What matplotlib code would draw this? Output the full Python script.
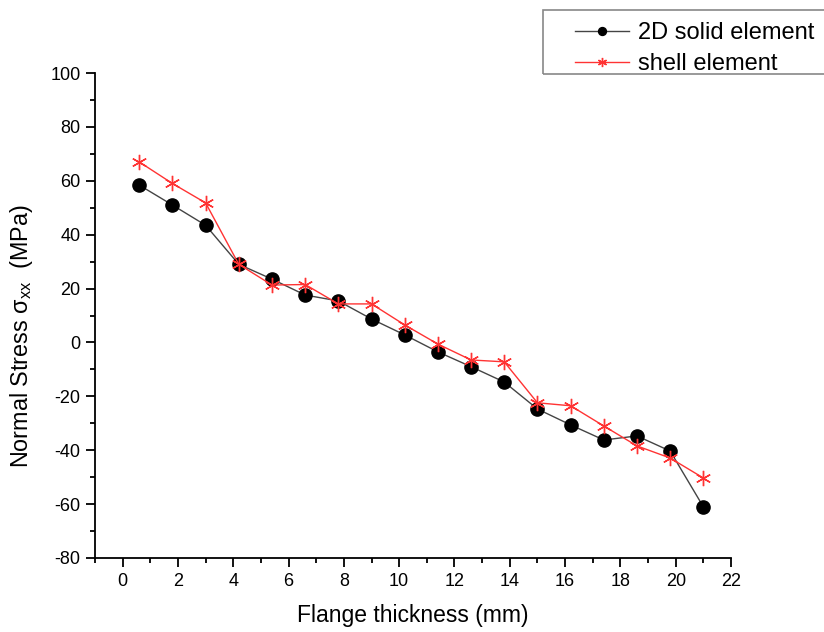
import numpy as np
import matplotlib.pyplot as plt
from matplotlib.ticker import MultipleLocator
from matplotlib.patches import Rectangle

plt.rcParams['font.family'] = ['Liberation Sans', 'DejaVu Sans']
plt.rcParams['mathtext.fontset'] = 'custom'
plt.rcParams['mathtext.rm'] = 'Liberation Sans'
plt.rcParams['mathtext.it'] = 'Liberation Sans'
plt.rcParams['axes.unicode_minus'] = False

# Data
thickness = [0.6, 1.8, 3.0, 4.2, 5.4, 6.6, 7.8, 9.0, 10.2, 11.4, 12.6, 13.8,
             15.0, 16.2, 17.4, 18.6, 19.8, 21.0]
solid_2d = [58.4, 51.0, 43.5, 29.0, 23.5, 17.6, 15.4, 8.7, 2.8, -3.5, -9.0, -14.7,
            -24.7, -30.6, -36.2, -34.7, -40.3, -61.0]
shell = [67.0, 59.0, 51.8, 29.0, 21.3, 21.5, 14.3, 14.3, 6.5, -0.6, -6.5, -7.2,
         -22.4, -23.5, -31.0, -38.4, -42.9, -50.3]

fig = plt.figure(figsize=(8.24, 6.32), dpi=100)
ax = fig.add_axes([95 / 824, 74 / 632, (731 - 95) / 824, (558 - 73) / 632])

ax.plot(thickness, solid_2d, color='#444444', lw=1.0, marker='o', ms=9.5,
        mfc='black', mec='black', label='2D solid element')
ax.plot(thickness, shell, color='#ff3333', lw=1.0, marker=(6, 2, 0), ms=11,
        mec='#ff3333', mew=1.0, label='shell element')

ax.set_xlim(-1, 22)
ax.set_ylim(-80, 100)
ax.xaxis.set_major_locator(MultipleLocator(2))
ax.xaxis.set_minor_locator(MultipleLocator(1))
ax.yaxis.set_major_locator(MultipleLocator(20))
ax.yaxis.set_minor_locator(MultipleLocator(10))
ax.tick_params(which='major', direction='out', length=6.5, width=1.3,
               labelsize=13, pad=4)
ax.tick_params(which='minor', direction='out', length=3.5, width=1.3)

for s in ['top', 'right']:
    ax.spines[s].set_visible(False)
for s in ['left', 'bottom']:
    ax.spines[s].set_linewidth(1.3)

ax.set_xlabel('Flange thickness (mm)', fontsize=16.5)
ax.set_ylabel('Normal Stress σ$_{\\rm xx}$  (MPa)', fontsize=16.8)
ax.xaxis.set_label_coords(0.5, -0.095)
ax.yaxis.set_label_coords(-0.095, 0.458)

# legend box reaching past the right edge, as in the reference
fig.patches.append(Rectangle((543 / 824, 1 - 74 / 632), 0.5, 64 / 632,
                             transform=fig.transFigure, fill=False,
                             edgecolor='#888888', lw=1.2))
fig.legend(loc='upper left', bbox_to_anchor=(575 / 824, 1 - 22 / 632),
           fontsize=17, frameon=False, handlelength=2.3, borderpad=0,
           labelspacing=0.38, handletextpad=0.35, borderaxespad=0,
           markerscale=0.6)

fig.savefig('out.png', dpi=100)
